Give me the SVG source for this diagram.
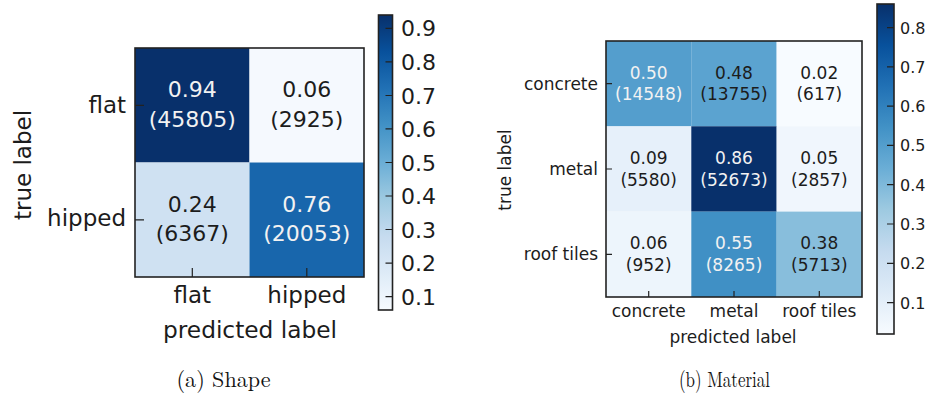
<svg xmlns="http://www.w3.org/2000/svg" width="929" height="394" viewBox="0 0 929 394">
  <style>
    text { font-family: "DejaVu Sans", Verdana, sans-serif; fill: #1c1c1c; }
    .big { font-size: 22px; }
    .lab { font-size: 23px; }
    .small { font-size: 17px; }
    .cb { font-size: 16px; }
    .mid { text-anchor: middle; }
    .end { text-anchor: end; }
    .light { fill: #f2f2f2; }
    .frame { fill: none; stroke: #222; stroke-width: 1.6; }
    .tick { stroke: #222; stroke-width: 1.2; }
    .cap { font-family: "Latin Modern Roman", "Liberation Serif", "DejaVu Serif", serif; font-size: 22px; fill: #111; }
  </style>
  <defs>
    <!-- matplotlib "Blues" colour map, bottom (low) to top (high) -->
    <linearGradient id="blues" x1="0" y1="1" x2="0" y2="0">
      <stop offset="0" stop-color="#f7fbff"/>
      <stop offset="0.125" stop-color="#deebf7"/>
      <stop offset="0.25" stop-color="#c6dbef"/>
      <stop offset="0.375" stop-color="#9ecae1"/>
      <stop offset="0.5" stop-color="#6baed6"/>
      <stop offset="0.625" stop-color="#4292c6"/>
      <stop offset="0.75" stop-color="#2171b5"/>
      <stop offset="0.875" stop-color="#08519c"/>
      <stop offset="1" stop-color="#08306b"/>
    </linearGradient>
  </defs>
  <rect width="929" height="394" fill="#ffffff"/>

  <!-- (a) Shape confusion matrix -->
  <g id="shape-matrix">
    <rect x="135" y="48" width="114.5" height="114.5" fill="#08306b"/>
    <rect x="249.5" y="48" width="114.5" height="114.5" fill="#f5f9fe"/>
    <rect x="135" y="162.5" width="114.5" height="114.5" fill="#cfe1f2"/>
    <rect x="249.5" y="162.5" width="114.5" height="114.5" fill="#1866ac"/>
    <rect class="frame" x="135" y="48" width="229" height="229"/>
    <path class="tick" d="M135 105.3h9M135 219.8h9M192.3 277v-9M306.8 277v-9"/>
    <text class="big mid light" x="192.3" y="97">0.94</text>
    <text class="big mid light" x="192.3" y="127">(45805)</text>
    <text class="big mid" x="306.8" y="97">0.06</text>
    <text class="big mid" x="306.8" y="127">(2925)</text>
    <text class="big mid" x="192.3" y="212">0.24</text>
    <text class="big mid" x="192.3" y="241">(6367)</text>
    <text class="big mid light" x="306.8" y="212">0.76</text>
    <text class="big mid light" x="306.8" y="241">(20053)</text>
    <text class="lab end" x="126" y="113">flat</text>
    <text class="lab end" x="126" y="226">hipped</text>
    <text class="lab mid" x="192.3" y="303">flat</text>
    <text class="lab mid" x="306.8" y="303">hipped</text>
    <text class="lab mid" x="250" y="338" textLength="174" lengthAdjust="spacingAndGlyphs">predicted label</text>
    <text class="lab mid" transform="translate(31 165) rotate(-90)">true label</text>
  </g>

  <g id="shape-colorbar">
    <rect x="378.5" y="15" width="14" height="295" fill="url(#blues)"/>
    <rect class="frame" x="378.5" y="15" width="14" height="295"/>
    <path class="tick" d="M385.5 296.6h7M385.5 263.1h7M385.5 229.5h7M385.5 196h7M385.5 162.5h7M385.5 128.9h7M385.5 95.5h7M385.5 61.9h7M385.5 28.4h7"/>
    <text class="big" x="401" y="304.6">0.1</text>
    <text class="big" x="401" y="271.1">0.2</text>
    <text class="big" x="401" y="237.5">0.3</text>
    <text class="big" x="401" y="204">0.4</text>
    <text class="big" x="401" y="170.5">0.5</text>
    <text class="big" x="401" y="136.9">0.6</text>
    <text class="big" x="401" y="103.5">0.7</text>
    <text class="big" x="401" y="69.9">0.8</text>
    <text class="big" x="401" y="36.4">0.9</text>
  </g>

  <!-- (b) Material confusion matrix -->
  <g id="material-matrix">
    <rect x="606" y="41" width="85.4" height="85.4" fill="#549ecd"/>
    <rect x="691.3" y="41" width="85.4" height="85.4" fill="#5ba3d0"/>
    <rect x="776.6" y="41" width="85.4" height="85.4" fill="#f7fbff"/>
    <rect x="606" y="126.3" width="85.4" height="85.4" fill="#e6f0fa"/>
    <rect x="691.3" y="126.3" width="85.4" height="85.4" fill="#08306b"/>
    <rect x="776.6" y="126.3" width="85.4" height="85.4" fill="#f0f6fd"/>
    <rect x="606" y="211.6" width="85.4" height="85.4" fill="#edf5fc"/>
    <rect x="691.3" y="211.6" width="85.4" height="85.4" fill="#4090c5"/>
    <rect x="776.6" y="211.6" width="85.4" height="85.4" fill="#88bedc"/>
    <rect class="frame" x="606" y="41" width="256" height="256"/>
    <path class="tick" d="M606 83.7h6M606 169h6M606 254.3h6M648.7 297v-6M734 297v-6M819.3 297v-6"/>
    <text class="small mid light" x="648.7" y="78.5">0.50</text>
    <text class="small mid light" x="648.7" y="100">(14548)</text>
    <text class="small mid" x="734" y="78.5">0.48</text>
    <text class="small mid" x="734" y="100">(13755)</text>
    <text class="small mid" x="819.3" y="78.5">0.02</text>
    <text class="small mid" x="819.3" y="100">(617)</text>
    <text class="small mid" x="648.7" y="164">0.09</text>
    <text class="small mid" x="648.7" y="185.7">(5580)</text>
    <text class="small mid light" x="734" y="164">0.86</text>
    <text class="small mid light" x="734" y="185.7">(52673)</text>
    <text class="small mid" x="819.3" y="164">0.05</text>
    <text class="small mid" x="819.3" y="185.7">(2857)</text>
    <text class="small mid" x="648.7" y="249.3">0.06</text>
    <text class="small mid" x="648.7" y="270.7">(952)</text>
    <text class="small mid light" x="734" y="249.3">0.55</text>
    <text class="small mid light" x="734" y="270.7">(8265)</text>
    <text class="small mid" x="819.3" y="249.3">0.38</text>
    <text class="small mid" x="819.3" y="270.7">(5713)</text>
    <text class="small end" x="598" y="89.5">concrete</text>
    <text class="small end" x="598" y="175">metal</text>
    <text class="small end" x="598" y="260">roof tiles</text>
    <text class="small mid" x="648.7" y="317">concrete</text>
    <text class="small mid" x="734" y="317">metal</text>
    <text class="small mid" x="819.3" y="317">roof tiles</text>
    <text class="small mid" x="733" y="343">predicted label</text>
    <text class="small mid" transform="translate(510.5 170) rotate(-90)">true label</text>
  </g>

  <g id="material-colorbar">
    <rect x="877" y="4" width="17" height="330" fill="url(#blues)"/>
    <rect class="frame" x="877" y="4" width="17" height="330"/>
    <path class="tick" d="M887 302.6h7M887 263.3h7M887 224h7M887 184.7h7M887 145.4h7M887 106.1h7M887 66.9h7M887 27.6h7"/>
    <text class="cb" x="900" y="308.6">0.1</text>
    <text class="cb" x="900" y="269.3">0.2</text>
    <text class="cb" x="900" y="230">0.3</text>
    <text class="cb" x="900" y="190.7">0.4</text>
    <text class="cb" x="900" y="151.4">0.5</text>
    <text class="cb" x="900" y="112.1">0.6</text>
    <text class="cb" x="900" y="72.9">0.7</text>
    <text class="cb" x="900" y="33.6">0.8</text>
  </g>

  <!-- sub-figure captions -->
  <g id="captions">
    <text class="cap" x="176.5" y="387" textLength="94" lengthAdjust="spacingAndGlyphs">(a) Shape</text>
    <text class="cap" x="679" y="387" textLength="91" lengthAdjust="spacingAndGlyphs">(b) Material</text>
  </g>
</svg>
